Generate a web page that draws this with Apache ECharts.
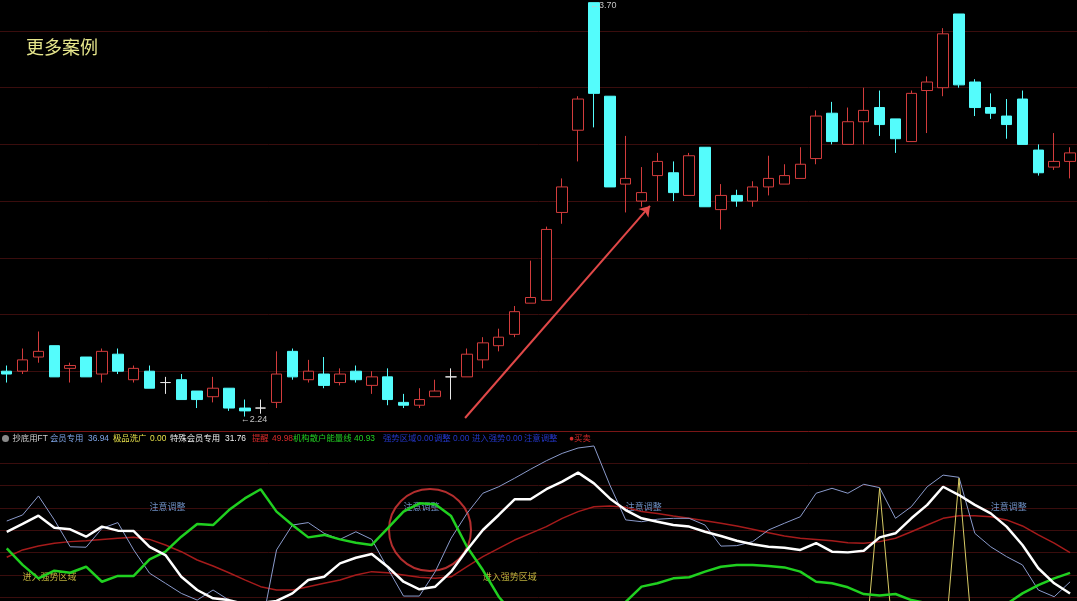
<!DOCTYPE html>
<html><head><meta charset="utf-8">
<script src="https://cdn.jsdelivr.net/npm/echarts@6/dist/echarts.min.js"></script>
<style>html,body{margin:0;padding:0;background:#000;}#c{width:1077px;height:601px;}</style>
</head><body><div id="c"></div>
<script>
// ---------- data ----------
const categories = ['1','2','3','4','5','6','7','8','9','10','11','12','13','14','15','16','17','18','19','20',
'21','22','23','24','25','26','27','28','29','30','31','32','33','34','35','36','37','38','39','40',
'41','42','43','44','45','46','47','48','49','50','51','52','53','54','55','56','57','58','59','60',
'61','62','63','64','65','66','67','68'];

const opens  = [2.40,2.40,2.45,2.49,2.41,2.45,2.39,2.46,2.37,2.40,2.36,2.37,2.33,2.31,2.34,2.27,2.27,2.29,2.47,2.37,
2.39,2.36,2.40,2.35,2.38,2.29,2.28,2.31,2.38,2.38,2.44,2.49,2.53,2.64,2.65,2.96,3.25,3.70,3.37,3.06,
3.00,3.09,3.10,3.02,3.19,2.97,3.02,3.00,3.05,3.06,3.08,3.15,3.31,3.20,3.28,3.33,3.29,3.21,3.39,3.40,
3.66,3.42,3.33,3.30,3.36,3.18,3.12,3.14];
const closes = [2.39,2.44,2.47,2.38,2.42,2.38,2.47,2.40,2.41,2.34,2.36,2.30,2.30,2.34,2.27,2.26,2.27,2.39,2.38,2.40,
2.35,2.39,2.37,2.38,2.30,2.28,2.30,2.33,2.38,2.46,2.50,2.52,2.61,2.66,2.90,3.05,3.36,3.38,3.05,3.08,
3.03,3.14,3.03,3.16,2.98,3.02,3.00,3.05,3.08,3.09,3.13,3.30,3.21,3.28,3.32,3.27,3.22,3.38,3.42,3.59,
3.41,3.33,3.31,3.27,3.20,3.10,3.14,3.17];
const lows   = [2.36,2.39,2.43,2.38,2.36,2.38,2.36,2.39,2.36,2.34,2.32,2.30,2.27,2.29,2.26,2.24,2.25,2.27,2.37,2.36,
2.34,2.35,2.36,2.32,2.28,2.27,2.27,2.31,2.30,2.38,2.41,2.47,2.52,2.64,2.65,2.92,3.14,3.26,3.05,2.96,
2.98,3.00,3.00,3.02,2.98,2.90,2.98,2.98,3.02,3.06,3.08,3.13,3.20,3.20,3.20,3.23,3.17,3.21,3.24,3.37,
3.40,3.30,3.29,3.22,3.20,3.09,3.11,3.08];
const highs  = [2.42,2.48,2.54,2.49,2.43,2.45,2.48,2.48,2.42,2.42,2.38,2.39,2.33,2.38,2.34,2.30,2.30,2.47,2.48,2.44,
2.45,2.41,2.42,2.40,2.41,2.32,2.34,2.37,2.41,2.48,2.52,2.55,2.63,2.79,2.91,3.08,3.37,3.70,3.37,3.23,
3.12,3.17,3.14,3.17,3.19,3.06,3.04,3.07,3.16,3.13,3.19,3.32,3.35,3.33,3.40,3.39,3.29,3.39,3.44,3.61,
3.66,3.43,3.38,3.36,3.39,3.20,3.24,3.19];

// lower panel indicator lines
const memberLine = [64.1,66.8,75.3,64.6,52.6,52.4,60.8,63.4,51.2,40.8,36.3,31.8,28.8,33.3,28.8,20.0,15.0,51.2,62.3,63.4,
58.6,55.9,59.3,55.9,43.0,30.6,30.6,41.5,56.4,67.5,76.5,79.4,83.2,87.2,91.0,94.3,96.7,97.6,80.2,64.6,
63.8,64.9,65.3,65.3,62.3,52.9,53.1,54.9,60.1,63.1,66.0,76.5,78.7,76.5,80.5,79.0,65.3,70.5,79.4,84.6,
83.6,58.6,52.6,48.2,44.5,33.3,30.3,36.94];
const specialLine = [59.3,62.8,66.5,61.1,60.4,57.1,61.6,59.8,59.6,52.6,48.9,39.2,33.3,29.6,28.8,27.0,27.5,28.4,31.8,37.8,
39.2,45.2,47.7,49.4,43.7,37.0,33.6,34.8,41.5,51.2,60.1,66.8,73.8,73.8,78.3,81.7,85.7,80.9,74.2,69.0,
65.3,63.8,62.3,61.6,59.3,57.4,55.3,53.7,52.6,52.2,51.2,54.2,50.4,50.1,50.8,56.8,58.6,65.3,71.3,79.4,
75.7,71.3,67.5,61.6,53.4,43.0,36.3,31.76];
const remindLine = [47.9,51.2,52.9,54.2,54.9,55.3,55.9,56.4,56.8,55.9,53.4,50.4,46.7,44.0,41.0,37.8,34.8,33.3,33.3,34.8,
36.3,37.8,40.0,41.5,41.0,40.0,39.0,38.5,39.2,43.7,48.2,51.9,55.6,58.6,61.6,65.3,68.3,70.5,70.8,70.2,
68.3,67.5,66.3,65.3,64.2,63.1,61.9,60.4,58.9,57.4,56.4,55.9,55.3,54.4,54.2,54.9,56.4,59.3,62.3,65.3,
66.5,66.5,66.0,64.6,61.9,57.9,54.2,49.98];
const institutionLine = [51.9,44.5,38.5,41.9,41.0,43.7,37.0,39.6,39.6,47.0,50.4,57.1,62.8,62.3,69.0,74.2,78.3,68.3,62.3,56.8,
57.9,55.9,54.4,53.4,60.8,68.3,72.0,71.6,66.3,52.6,42.2,30.3,22.0,16.0,12.0,10.0,9.0,10.0,14.0,28.0,
34.8,36.3,38.5,39.0,41.5,43.7,44.5,44.5,44.0,43.4,41.5,37.0,36.3,34.5,31.5,30.8,31.5,28.8,27.4,24.0,
22.0,23.0,25.0,27.0,31.8,35.5,38.5,40.93];
const washLine = [0,0,0,0,0,0,0,0,0,0,0,0,0,0,0,0,0,0,0,0,
0,0,0,0,0,0,0,0,0,0,0,0,0,0,0,0,0,0,0,0,
0,0,0,0,0,0,0,0,0,0,0,0,0,0,0,78.7,0,0,0,0,
83.2,0,0,0,0,0,0,0];

// text signals in the lower panel
const noticeIdx = [9,25,39,62];
const noticeLevel = 70;
const strongIdx = [1,30];
const strongLevel = 39;

// annotations
const highMarkIdx = 37;
const lowMarkIdx = 15;
const arrowFrom = [28.88, 2.235];
const arrowTo = [40.53, 2.983];
const circleAt = [26.67, 60.1];

// ---------- chart ----------
const FONT = '"Liberation Sans","Noto Sans CJK SC",sans-serif';
const UP = '#d23c3c', DOWN = '#54fcfc';

const candleData = categories.map((c, i) => {
  const item = { value: [opens[i], closes[i], lows[i], highs[i]] };
  if (opens[i] === closes[i]) {
    item.itemStyle = { color: '#e8e8e8', color0: '#e8e8e8', borderColor: '#e8e8e8', borderColor0: '#e8e8e8' };
  }
  return item;
});

const last = a => a[a.length - 1].toFixed(2);
const headerParts = [
  [12.5, '抄底用FT', '#cfcfcf'],
  [50, '会员专用', '#7ea4e6'],
  [88, last(memberLine), '#7ea4e6'],
  [113, '极品洗广', '#e6e04a'],
  [150, last(washLine), '#e6e04a'],
  [170, '特殊会员专用', '#f0f0f0'],
  [225, last(specialLine), '#f0f0f0'],
  [252, '提醒', '#d42a2a'],
  [272, last(remindLine), '#d42a2a'],
  [293, '机构散户能量线', '#22cc22'],
  [354, last(institutionLine), '#22cc22'],
  [383, '强势区域', '#2436c8'],
  [417, '0.00', '#2436c8'],
  [434, '调整', '#2436c8'],
  [453, '0.00', '#2436c8'],
  [472, '进入强势', '#2436c8'],
  [506, '0.00', '#2436c8'],
  [524, '注意调整', '#2436c8'],
  [569, '●买卖', '#d42a2a']
];
const graphics = [{ type: 'circle', shape: { cx: 5.5, cy: 438.5, r: 3.5 }, style: { fill: '#8a8a8a' } }]
  .concat(headerParts.map(p => ({
    type: 'text', x: p[0], y: 438.5,
    style: { text: p[1], fill: p[2], font: '8.4px ' + FONT, verticalAlign: 'middle' }
  })));

const gridLine = '#3a0d0d';
const chart = echarts.init(document.getElementById('c'));
chart.setOption({
  backgroundColor: '#000000',
  animation: false,
  title: {
    text: '更多案例', left: 21, top: 33,
    textStyle: { color: '#e6e68c', fontSize: 18, fontWeight: 'normal', fontFamily: '"Noto Sans CJK SC",sans-serif' }
  },
  graphic: graphics,
  grid: [
    { left: -1.2, top: 2.65, width: 1079.2, height: 425.25, outerBoundsMode: 'none', containLabel: false },
    { left: -1.2, top: 440.6, width: 1079.2, height: 224, outerBoundsMode: 'none', containLabel: false }
  ],
  xAxis: [
    { type: 'category', gridIndex: 0, data: categories, boundaryGap: true, offset: 3.6,
      axisLine: { show: true, lineStyle: { color: '#7a1616', width: 1 } },
      axisTick: { show: false }, axisLabel: { show: false }, splitLine: { show: false } },
    { type: 'category', gridIndex: 1, data: categories, boundaryGap: true, show: false },
    { type: 'value', gridIndex: 0, min: -0.5, max: 67.5, show: false },
    { type: 'value', gridIndex: 1, min: -0.5, max: 67.5, show: false }
  ],
  yAxis: [
    { type: 'value', gridIndex: 0, min: 2.2, max: 3.7, interval: 0.2, scale: true,
      axisLine: { show: false }, axisTick: { show: false }, axisLabel: { show: false },
      splitLine: { show: true, showMinLine: false, showMaxLine: false, lineStyle: { color: gridLine, width: 1 } } },
    { type: 'value', gridIndex: 1, min: 0, max: 100, interval: 10,
      axisLine: { show: false }, axisTick: { show: false }, axisLabel: { show: false },
      splitLine: { show: true, showMinLine: false, showMaxLine: false, lineStyle: { color: gridLine, width: 1 } } }
  ],
  series: [
    {
      type: 'candlestick', xAxisIndex: 0, yAxisIndex: 0, barWidth: 11,
      data: candleData,
      itemStyle: { color: '#000000', color0: DOWN, borderColor: UP, borderColor0: DOWN, borderWidth: 1 },
      markPoint: {
        symbol: 'circle', symbolSize: 0,
        label: { show: true, position: 'right', distance: 0, offset: [-4, 3], color: '#c4c4c4', fontSize: 9, fontFamily: FONT,
                 formatter: p => '←' + p.value },
        data: [
          { coord: [categories[highMarkIdx], highs[highMarkIdx]], value: highs[highMarkIdx].toFixed(2) },
          { coord: [categories[lowMarkIdx], lows[lowMarkIdx]], value: lows[lowMarkIdx].toFixed(2) }
        ]
      }
    },
    {
      type: 'lines', coordinateSystem: 'cartesian2d', xAxisIndex: 2, yAxisIndex: 0,
      symbol: ['none', 'arrow'], symbolSize: 10,
      lineStyle: { color: '#e04848', width: 2, opacity: 1 },
      data: [{ coords: [arrowFrom, arrowTo] }]
    },
    { type: 'line', xAxisIndex: 1, yAxisIndex: 1, data: remindLine, symbol: 'none',
      lineStyle: { color: '#a51b1b', width: 1.5 } },
    { type: 'line', xAxisIndex: 1, yAxisIndex: 1, data: memberLine, symbol: 'none',
      lineStyle: { color: '#8a9acb', width: 1 } },
    { type: 'line', xAxisIndex: 1, yAxisIndex: 1, data: washLine, symbol: 'none',
      lineStyle: { color: '#d8cc66', width: 1 } },
    { type: 'line', xAxisIndex: 1, yAxisIndex: 1, data: institutionLine, symbol: 'none',
      lineStyle: { color: '#20d020', width: 2.5 } },
    { type: 'line', xAxisIndex: 1, yAxisIndex: 1, data: specialLine, symbol: 'none',
      lineStyle: { color: '#ffffff', width: 2.5 } },
    { type: 'scatter', xAxisIndex: 1, yAxisIndex: 1, symbolSize: 0, silent: true,
      data: noticeIdx.map(i => [categories[i], noticeLevel]),
      label: { show: true, position: 'right', distance: 0, formatter: '注意调整', color: '#86b0f0', fontSize: 9, fontFamily: FONT } },
    { type: 'scatter', xAxisIndex: 1, yAxisIndex: 1, symbolSize: 0, silent: true,
      data: strongIdx.map(i => [categories[i], strongLevel]),
      label: { show: true, position: 'right', distance: 0, formatter: '进入强势区域', color: '#e8d84a', fontSize: 9, fontFamily: FONT } },
    { type: 'scatter', xAxisIndex: 3, yAxisIndex: 1, symbol: 'circle', symbolSize: 82, silent: true,
      itemStyle: { color: 'rgba(0,0,0,0)', borderColor: '#e03a3a', borderWidth: 2 },
      data: [circleAt] }
  ]
});
</script></body></html>
